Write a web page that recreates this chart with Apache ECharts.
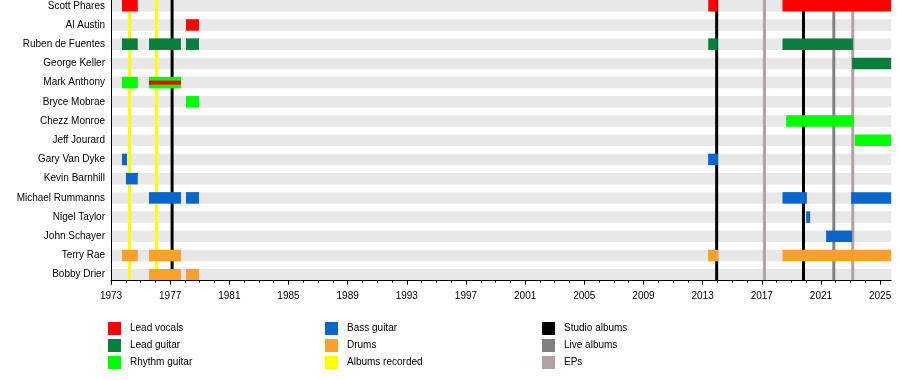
<!DOCTYPE html>
<html><head><meta charset="utf-8">
<script src="https://cdn.jsdelivr.net/npm/echarts@6/dist/echarts.min.js"></script>
<style>html,body{margin:0;padding:0;background:#fff}#c{width:900px;height:380px}</style>
</head><body><div id="c"></div>
<script>
const members = ['Scott Phares','Al Austin','Ruben de Fuentes','George Keller','Mark Anthony','Bryce Mobrae','Chezz Monroe','Jeff Jourard','Gary Van Dyke','Kevin Barnhill','Michael Rummanns','Nigel Taylor','John Schayer','Terry Rae','Bobby Drier'];
const startYear = 1973;
const endYear = 2025.75;
const labelYears = [1973,1977,1981,1985,1989,1993,1997,2001,2005,2009,2013,2017,2021,2025];
const tickYears = [1973,1974,1975,1976,1977,1978,1979,1980,1981,1982,1983,1984,1985,1986,1987,1988,1989,1990,1991,1992,1993,1994,1995,1996,1997,1998,1999,2000,2001,2002,2003,2004,2005,2006,2007,2008,2009,2010,2011,2012,2013,2014,2015,2016,2017,2018,2019,2020,2021,2022,2023,2024,2025];

const leadVocals = [
  ['Scott Phares',1973.74,1974.81],['Scott Phares',2013.38,2014.02],['Scott Phares',2018.4,2025.75],
  ['Al Austin',1978.07,1978.95]
];
const leadVocalsMinor = [['Mark Anthony',1975.57,1977.73]];
const leadGuitar = [
  ['Ruben de Fuentes',1973.74,1974.81],['Ruben de Fuentes',1975.57,1977.73],['Ruben de Fuentes',1978.07,1978.95],
  ['Ruben de Fuentes',2013.38,2014.02],['Ruben de Fuentes',2018.4,2023.16],
  ['George Keller',2023.11,2025.75]
];
const rhythmGuitar = [
  ['Mark Anthony',1973.74,1974.81],['Mark Anthony',1975.57,1977.73],
  ['Bryce Mobrae',1978.07,1978.95],
  ['Chezz Monroe',2018.65,2023.2],
  ['Jeff Jourard',2023.29,2025.75]
];
const bassGuitar = [
  ['Gary Van Dyke',1973.74,1974.08],['Gary Van Dyke',2013.37,2014.04],
  ['Kevin Barnhill',1974.01,1974.81],
  ['Michael Rummanns',1975.57,1977.73],['Michael Rummanns',1978.07,1978.95],['Michael Rummanns',2018.4,2020.05],['Michael Rummanns',2023.04,2025.75],
  ['Nigel Taylor',2020.0,2020.27],
  ['John Schayer',2021.35,2023.11]
];
const drums = [
  ['Terry Rae',1973.74,1974.81],['Terry Rae',1975.57,1977.73],['Terry Rae',2013.37,2014.04],['Terry Rae',2018.4,2025.75],
  ['Bobby Drier',1975.57,1977.73],['Bobby Drier',1978.07,1978.95]
];
const albumsRecorded = [1974.25, 1976.08];
const studioAlbums = [1977.13, 2013.95, 2019.82];
const liveAlbums = [2021.87];
const eps = [2017.18, 2023.15];

const FONT = "'Liberation Sans', Arial, sans-serif";
const FS = 10;
const toRows = arr => arr.map(d => [members.indexOf(d[0]), d[1], d[2]]);

function barRender(frac) {
  return function (params, api) {
    const row = api.value(0);
    const s = api.coord([api.value(1), row]);
    const e = api.coord([api.value(2), row]);
    const band = api.size([0, 1])[1];
    const h = band * frac;
    return { type: 'rect', shape: { x: s[0], y: s[1] - h / 2, width: e[0] - s[0], height: h },
      style: { fill: api.visual('color') } };
  };
}
function lineRender(params, api) {
  const x = api.value(0);
  const band = api.size([0, 1])[1];
  const top = api.coord([x, 0]);
  const bot = api.coord([x, members.length - 1]);
  return { type: 'line', shape: { x1: top[0], y1: top[1] - band * 0.3, x2: bot[0], y2: bot[1] + band * 0.3 },
    style: { stroke: api.visual('color'), lineWidth: 3 } };
}
function bgRender(params, api) {
  const row = api.value(0);
  const s = api.coord([startYear, row]);
  const e = api.coord([endYear, row]);
  const band = api.size([0, 1])[1];
  const h = band * 0.6;
  return { type: 'rect', shape: { x: s[0], y: s[1] - h / 2, width: e[0] - s[0], height: h },
    style: { fill: '#e8e8e8' } };
}

function barSeries(name, arr, color, frac) {
  return { type: 'custom', name, renderItem: barRender(frac), data: toRows(arr),
    encode: { x: [1, 2], y: 0 }, itemStyle: { color }, silent: true };
}
function lineSeries(name, arr, color) {
  return { type: 'custom', name, renderItem: lineRender, data: arr.map(v => [v]),
    encode: { x: 0 }, itemStyle: { color }, silent: true };
}

const chart = echarts.init(document.getElementById('c'), null, { renderer: 'canvas' });
const legendBase = { orient: 'vertical', itemWidth: 13, itemHeight: 13, itemGap: 4, icon: 'rect',
  selectedMode: false, top: 322, padding: 0,
  textStyle: { fontSize: FS, color: '#000', fontFamily: FONT, padding: [1, 0, 0, 4] } };
chart.setOption({
  animation: false,
  textStyle: { fontFamily: FONT },
  grid: { left: 111, right: 8.8, top: -3.85, height: 288.2, outerBoundsMode: 'none', containLabel: false },
  legend: [
    Object.assign({}, legendBase, { left: 108, data: ['Lead vocals', 'Lead guitar', 'Rhythm guitar'] }),
    Object.assign({}, legendBase, { left: 325, data: ['Bass guitar', 'Drums', 'Albums recorded'] }),
    Object.assign({}, legendBase, { left: 542, data: ['Studio albums', 'Live albums', 'EPs'] })
  ],
  xAxis: [
    { type: 'value', min: startYear, max: endYear, position: 'bottom', offset: -3.8, z: 10,
      axisLine: { show: true, lineStyle: { color: '#000', width: 1 } },
      axisTick: { show: true, customValues: tickYears, length: 2, lineStyle: { color: '#000' } },
      axisLabel: { customValues: labelYears, margin: 11, fontSize: FS, color: '#000', fontFamily: FONT,
        formatter: v => String(v) },
      splitLine: { show: false } },
    { type: 'value', min: startYear, max: endYear, position: 'bottom', offset: -3.8,
      axisLine: { show: false },
      axisTick: { show: true, customValues: labelYears, length: 4, lineStyle: { color: '#000' } },
      axisLabel: { show: false }, splitLine: { show: false } }
  ],
  yAxis: { type: 'category', data: members, inverse: true, z: 10,
    axisLine: { show: true, lineStyle: { color: '#000', width: 1 } },
    axisTick: { show: false },
    axisLabel: { margin: 6, fontSize: FS, color: '#000', fontFamily: FONT },
    splitLine: { show: false } },
  series: [
    { type: 'custom', name: 'bg', renderItem: bgRender, data: members.map((m, i) => [i]), encode: { y: 0 }, silent: true },
    lineSeries('Albums recorded', albumsRecorded, '#ffff00'),
    lineSeries('Studio albums', studioAlbums, '#000000'),
    lineSeries('Live albums', liveAlbums, '#808080'),
    lineSeries('EPs', eps, '#b5a1a2'),
    barSeries('Lead vocals', leadVocals, '#ff0000', 0.6),
    barSeries('Lead guitar', leadGuitar, '#087f3c', 0.6),
    barSeries('Rhythm guitar', rhythmGuitar, '#00ff00', 0.6),
    barSeries('Bass guitar', bassGuitar, '#0a66c8', 0.6),
    barSeries('Drums', drums, '#ffa02c', 0.6),
    barSeries('Lead vocals', leadVocalsMinor, '#ff0000', 0.21)
  ]
});
</script>
</body></html>
